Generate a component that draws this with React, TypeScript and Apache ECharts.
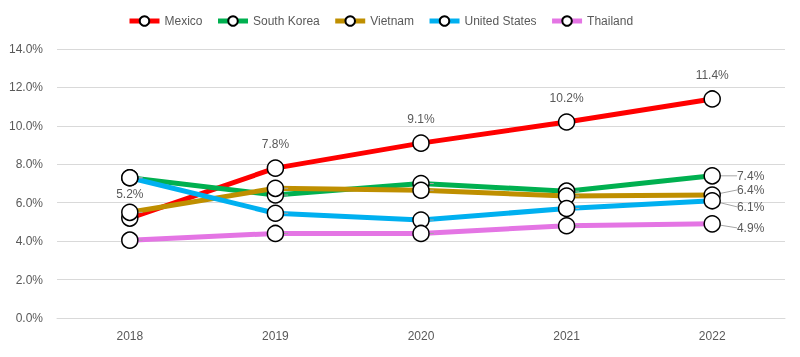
import React, { useEffect, useRef } from "react";
import * as echarts from "echarts";

const years = ["2018", "2019", "2020", "2021", "2022"];
const mexico = [5.2, 7.8, 9.1, 10.2, 11.4];
const southKorea = [7.3, 6.4, 7.0, 6.6, 7.4];
const vietnam = [5.5, 6.75, 6.65, 6.35, 6.4];
const unitedStates = [7.3, 5.45, 5.1, 5.7, 6.1];
const thailand = [4.05, 4.4, 4.4, 4.8, 4.9];

const FONT = "Liberation Sans";
const TXT = "#595959";

export default function App() {
  const ref = useRef<HTMLDivElement>(null);
  useEffect(() => {
    const chart = echarts.init(ref.current!, null, { renderer: "svg" });
    const base = (name: string, data: number[], color: string) => ({
      name,
      type: "line",
      data,
      symbol: "circle",
      symbolSize: 16,
      lineStyle: { width: 5, color },
      itemStyle: { color: "#ffffff", borderColor: "#000000", borderWidth: 1.5 },
      color,
      z: 2,
    });
    const endLabel = (dy: number) => ({
      label: {
        show: true,
        position: "right",
        distance: 4,
        fontFamily: FONT,
        fontSize: 12,
        color: TXT,
        formatter: (p: any) => (p.dataIndex === 4 ? p.value.toFixed(1) + "%" : ""),
      },
      labelLayout: (p: any) => (p.dataIndex === 4 ? { dx: 12, dy } : {}),
      labelLine: { show: true, lineStyle: { color: "#a6a6a6", width: 1 } },
    });
    chart.setOption({
      animation: false,
      legend: {
        top: 10,
        left: 122,
        itemWidth: 30,
        itemHeight: 12,
        itemGap: 13,
        lineStyle: { width: 5 },
        textStyle: { fontFamily: FONT, fontSize: 12, color: TXT },
        data: ["Mexico", "South Korea", "Vietnam", "United States", "Thailand"],
      },
      grid: { left: 57, right: 15, top: 49, bottom: 39 },
      xAxis: {
        type: "category",
        data: years,
        boundaryGap: true,
        axisLine: { lineStyle: { color: "#d9d9d9" } },
        axisTick: { show: false },
        axisLabel: { fontFamily: FONT, fontSize: 12, color: TXT, margin: 12 },
      },
      yAxis: {
        type: "value",
        min: 0,
        max: 14,
        interval: 2,
        axisLabel: {
          fontFamily: FONT,
          fontSize: 12,
          color: TXT,
          margin: 14,
          formatter: (v: number) => v.toFixed(1) + "%",
        },
        splitLine: { lineStyle: { color: "#d9d9d9" } },
        axisLine: { show: false },
        axisTick: { show: false },
      },
      series: [
        {
          ...base("Mexico", mexico, "#ff0000"),
          label: {
            show: true,
            position: "top",
            distance: 9,
            fontFamily: FONT,
            fontSize: 12,
            color: TXT,
            formatter: (p: any) => p.value.toFixed(1) + "%",
          },
        },
        { ...base("South Korea", southKorea, "#00b050"), ...endLabel(0) },
        { ...base("Vietnam", vietnam, "#bf8f00"), ...endLabel(-5) },
        { ...base("United States", unitedStates, "#00b0f0"), ...endLabel(6) },
        { ...base("Thailand", thailand, "#e475e4"), ...endLabel(4) },
      ],
    });
    return () => chart.dispose();
  }, []);
  return (
    <div
      ref={ref}
      style={{ position: "fixed", left: 0, top: 0, width: 800, height: 357 }}
    />
  );
}
